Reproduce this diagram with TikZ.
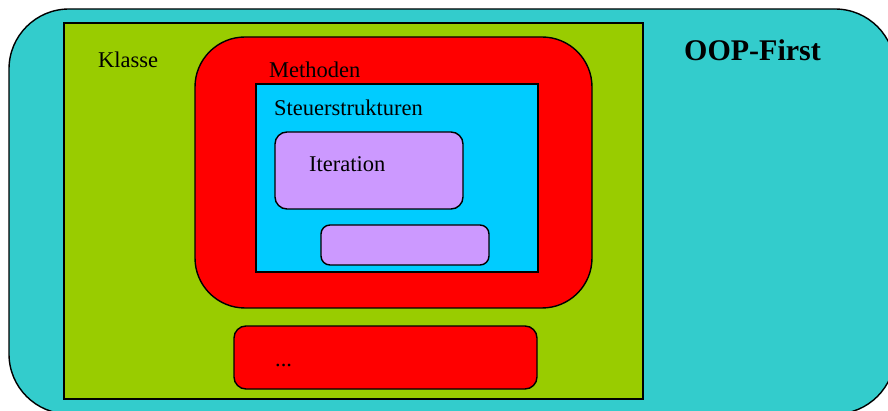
\documentclass[tikz,border=0pt]{standalone}
\usepackage{fontspec}
\setmainfont{Liberation Serif}
\definecolor{oopcyan}{HTML}{33CCCC}
\definecolor{classgreen}{HTML}{99CC00}
\definecolor{methodred}{HTML}{FF0000}
\definecolor{ctrlblue}{HTML}{00CCFF}
\definecolor{iterviolet}{HTML}{CC99FF}
\begin{document}
\begin{tikzpicture}[x=1pt,y=-1pt,
  box/.style={draw=black, line width=1.4pt, inner sep=0pt, outer sep=0pt, anchor=north west},
  lbl/.style={anchor=base west, inner sep=0pt, font=\fontsize{22.5}{27}\selectfont},
  title/.style={anchor=base west, inner sep=0pt, font=\fontsize{30}{36}\selectfont\bfseries}]
\useasboundingbox (0,0) rectangle (888,411);
\clip (0,0) rectangle (888,411);
% outer paradigm area
\node[box, fill=oopcyan, rounded corners=60pt, minimum width=886pt, minimum height=405pt] (oop) at (9,9) {};
% class
\node[box, fill=classgreen, minimum width=579pt, minimum height=376pt] (klasse) at (64,23) {};
% methods
\node[box, fill=methodred, rounded corners=50pt, minimum width=397pt, minimum height=271pt] (methoden) at (195,37) {};
% control structures
\node[box, fill=ctrlblue, minimum width=282pt, minimum height=188pt] (steuer) at (256,84) {};
% iteration and a second structure
\node[box, fill=iterviolet, rounded corners=12pt, minimum width=188pt, minimum height=77pt] (iter) at (275,132) {};
\node[box, fill=iterviolet, rounded corners=9pt, minimum width=168pt, minimum height=40pt] (weitere) at (321,225) {};
% further methods
\node[box, fill=methodred, rounded corners=12pt, minimum width=303pt, minimum height=63pt] (mehr) at (234,326) {};
% labels
\node[lbl] (tklasse) at (98,68) {Klasse};
\node[lbl] (tmethoden) at (269,78) {Methoden};
\node[lbl] (tsteuer) at (274,116) {Steuerstrukturen};
\node[lbl] (titer) at (309,172) {Iteration};
\node[lbl] (tmehr) at (275,366) {...};
\node[title] (toop) at (684,61) {OOP-First};
\end{tikzpicture}
\end{document}
